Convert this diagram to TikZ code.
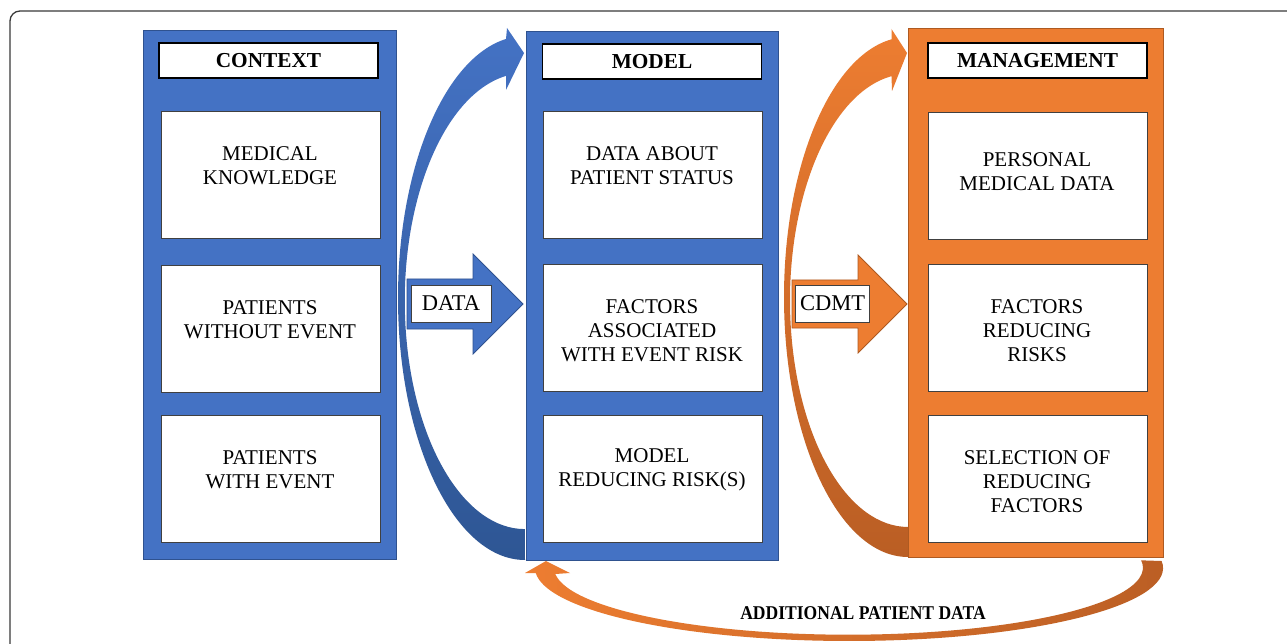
\documentclass[tikz,border=0pt]{standalone}
\usepackage{fontspec}
\setmainfont{Liberation Serif}
\definecolor{cblue}{HTML}{4472C4}
\definecolor{cblueD}{HTML}{2F528F}
\definecolor{cblueT}{HTML}{2E5694}
\definecolor{corg}{HTML}{ED7D31}
\definecolor{corgD}{HTML}{AE5A21}
\definecolor{corgT}{HTML}{BA5E24}
\definecolor{framec}{HTML}{3A3A3A}
\definecolor{boxgray}{HTML}{404040}
\begin{document}
\begin{tikzpicture}[x=1pt,y=-1pt,
  colB/.style={fill=cblue, draw=cblueD, line width=0.8pt, inner sep=0pt, outer sep=0pt},
  colO/.style={fill=corg, draw=corgD, line width=0.8pt, inner sep=0pt, outer sep=0pt},
  titlebox/.style={draw=black, line width=1.3pt, fill=white, minimum width=219pt, minimum height=35pt, inner sep=0pt, font=\fontsize{21.3}{24}\selectfont\bfseries},
  itembox/.style={draw=boxgray, line width=0.9pt, fill=white, minimum width=219pt, minimum height=127pt, inner sep=0pt},
  txt/.style={align=center, inner sep=0pt, font=\fontsize{21}{24}\selectfont},
  lblbox/.style={draw=boxgray, line width=0.9pt, fill=white, minimum height=37pt, inner sep=0pt, font=\fontsize{22.5}{24}\selectfont},
  blockB/.style={fill=cblue, draw=cblueD, line width=0.8pt},
  blockO/.style={fill=corg, draw=corgD, line width=0.8pt}
]
\useasboundingbox (0,0) rectangle (1287,644);
\fill[white] (0,0) rectangle (1287,644);
% frame
\draw[framec, line width=1.3pt, rounded corners=10pt] (10,650) -- (10,11) -- (1295,11);

% columns
\node[colB, minimum width=253pt, minimum height=529pt] (c1) at (269.5,294.5) {};
\node[colB, minimum width=252pt, minimum height=529pt] (c2) at (652,295.5) {};
\node[colO, minimum width=255pt, minimum height=529pt] (c3) at (1035.5,292.5) {};

% titles
\node[titlebox] (h1) at (268.5,60.5) {CONTEXT};
\node[titlebox] (h2) at (652,61.5) {MODEL};
\node[titlebox] (h3) at (1037.5,60.5) {MANAGEMENT};

% item boxes
\node[itembox] (b11) at (270.5,174.5) {};
\node[itembox] (b12) at (270.5,328.5) {};
\node[itembox] (b13) at (270.5,478.5) {};
\node[itembox] (b21) at (652.5,174.5) {};
\node[itembox] (b22) at (652.5,328) {};
\node[itembox] (b23) at (652.5,478.5) {};
\node[itembox] (b31) at (1037.5,175.5) {};
\node[itembox] (b32) at (1037.5,327.5) {};
\node[itembox] (b33) at (1037.5,478.5) {};

\node[txt] (t11) at (270,166) {MEDICAL\\KNOWLEDGE};
\node[txt] (t12) at (270,320) {PATIENTS\\WITHOUT EVENT};
\node[txt] (t13) at (270,470) {PATIENTS\\WITH EVENT};
\node[txt] (t21) at (652,166) {DATA ABOUT\\PATIENT STATUS};
\node[txt] (t22) at (652,331) {FACTORS\\ASSOCIATED\\WITH EVENT RISK};
\node[txt] (t23) at (652,470) {MODEL\\REDUCING RISK(S)};
\node[txt] (t31) at (1037,172) {PERSONAL\\MEDICAL DATA};
\node[txt] (t32) at (1037,331) {FACTORS\\REDUCING\\RISKS};
\node[txt] (t33) at (1037,482) {SELECTION OF\\REDUCING\\FACTORS};

% block arrows
\draw[blockB] (407,279) -- (473,279) -- (473,254) -- (523,304) -- (473,354) -- (473,329) -- (407,329) -- cycle;
\node[lblbox, minimum width=80pt] (ldata) at (451,303.5) {DATA};
\draw[blockO] (792,280) -- (858,280) -- (858,255) -- (907,304) -- (858,353) -- (858,328) -- (792,328) -- cycle;
\node[lblbox, minimum width=74pt] (lcdmt) at (832.5,303.5) {CDMT};

% curved blue arrow
\path[top color=cblue, middle color=cblue, bottom color=cblueT]
  (525,560) arc[start angle=90, end angle=261.4, x radius=127, y radius=262]
  -- (507,28) -- (524,53) -- (506,90) -- (506,75.9)
  arc[start angle=261, end angle=90, x radius=120, y radius=228] -- cycle;

% curved orange arrow
\path[top color=corg, middle color=corg, bottom color=corgT]
  (908,557) arc[start angle=90, end angle=262.35, x radius=124, y radius=260]
  -- (891.5,29) -- (907,53) -- (892,91) -- (891.5,76.2)
  arc[start angle=261.96, end angle=90, x radius=118, y radius=226.5] -- cycle;

% bottom feedback arrow
\path[left color=corg, middle color=corg, right color=corgT]
  (1161.6,561) arc[start angle=-5.5, end angle=176, x radius=314, y radius=73]
  -- (525,573) -- (546,561) -- (570,573) -- (555.3,574)
  arc[start angle=174.6, end angle=-6.3, x radius=294.5, y radius=67] -- cycle;

\node[inner sep=0pt, font=\fontsize{19.5}{22}\selectfont\bfseries] (lad) at (863,613) {\scalebox{0.9}[1]{ADDITIONAL PATIENT DATA}};
\end{tikzpicture}
\end{document}
